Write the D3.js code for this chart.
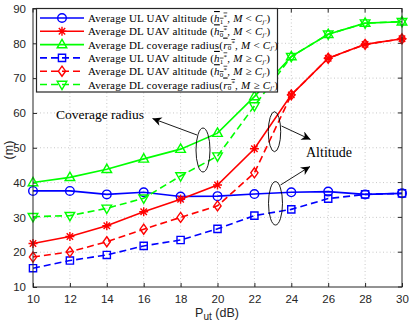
<!DOCTYPE html>
<html><head><meta charset="utf-8">
<script src="https://cdn.jsdelivr.net/npm/d3@7"></script>
<style>body{margin:0;background:#fff}svg{display:block}</style>
</head><body>
<svg id="c" width="409" height="327"></svg>
<script>
const xVals = [10,12,14,16,18,20,22,24,26,28,30];
const ulAltLess = [37.6,37.6,36.6,37.2,36.0,36.1,36.7,37.2,37.4,36.6,36.9];
const dlAltLess = [22.5,24.5,27.6,31.6,35.2,39.3,49.7,65.2,75.7,79.7,81.3];
const dlRadLess = [40.0,41.5,43.8,46.8,49.6,54.2,64.7,76.2,82.6,85.8,86.2];
const ulAltGeq = [15.4,17.6,19.2,21.8,23.5,26.7,30.5,32.3,35.4,36.6,36.9];
const dlAltGeq = [18.6,20.1,23.0,26.6,30.0,33.3,42.8,65.2,75.7,79.7,81.3];
const dlRadGeq = [30.2,30.5,32.6,35.5,41.9,47.6,62.0,76.2,82.6,85.8,86.2];
const xTicks = [10,12,14,16,18,20,22,24,26,28,30];
const yTicks = [10,20,30,40,50,60,70,80,90];
const legendNames = [
  ["Average UL UAV altitude (","h","1","<"],
  ["Average DL UAV altitude (","h","0","<"],
  ["Average DL coverage radius(","r","0","<"],
  ["Average UL UAV altitude (","h","1","≥"],
  ["Average DL UAV altitude (","h","0","≥"],
  ["Average DL coverage radius(","r","0","≥"]
];

const series = [
  {v: ulAltLess, color:"#0000ff", dash:null, m:"circle"},
  {v: dlAltLess, color:"#ff0000", dash:null, m:"star"},
  {v: dlRadLess, color:"#00ff00", dash:null, m:"tri"},
  {v: ulAltGeq, color:"#0000ff", dash:"7,4", m:"square"},
  {v: dlAltGeq, color:"#ff0000", dash:"7,4", m:"diamond"},
  {v: dlRadGeq, color:"#00ff00", dash:"7,4", m:"itri"}
];

const svg = d3.select("#c");
const L=33, R=402, T=8.5, B=287;
const x = d3.scaleLinear().domain([10,30]).range([L,R]);
const y = d3.scaleLinear().domain([10,90]).range([B,T]);

// grid
const g = svg.append("g");
g.selectAll(".gx").data(xTicks.slice(1,-1)).enter().append("line")
  .attr("x1",d=>x(d)).attr("x2",d=>x(d)).attr("y1",T).attr("y2",B)
  .attr("stroke","#bbb").attr("stroke-width",0.8).attr("stroke-dasharray","1,2.5");
g.selectAll(".gy").data(yTicks.slice(1,-1)).enter().append("line")
  .attr("y1",d=>y(d)).attr("y2",d=>y(d)).attr("x1",L).attr("x2",R)
  .attr("stroke","#bbb").attr("stroke-width",0.8).attr("stroke-dasharray","1,2.5");

// axes
const xAxis = d3.axisBottom(x).tickValues(xTicks).tickSize(-4).tickPadding(8);
const yAxis = d3.axisLeft(y).tickValues(yTicks).tickSize(-4).tickPadding(7);
const ax = svg.append("g").attr("transform",`translate(0,${B})`).call(xAxis);
const ay = svg.append("g").attr("transform",`translate(${L},0)`).call(yAxis);
[ax,ay].forEach(a=>{
  a.select(".domain").remove();
  a.selectAll("text").attr("font-family","Liberation Sans, Arial, sans-serif").attr("font-size",11.5).attr("fill","#262626");
  a.selectAll("line").attr("stroke","#262626");
});
// top/right ticks
svg.append("g").selectAll("line").data(xTicks).enter().append("line")
  .attr("x1",d=>x(d)).attr("x2",d=>x(d)).attr("y1",T).attr("y2",T+4).attr("stroke","#262626");
svg.append("g").selectAll("line").data(yTicks).enter().append("line")
  .attr("y1",d=>y(d)).attr("y2",d=>y(d)).attr("x1",R).attr("x2",R-4).attr("stroke","#262626");

// markers
function markerPath(type){
  switch(type){
    case "circle": return d3.symbol(d3.symbolCircle, Math.PI*4.3*4.3)();
    case "square": return "M-3.6,-3.6H3.6V3.6H-3.6Z";
    case "diamond": return "M0,-5L3.6,0L0,5L-3.6,0Z";
    case "tri": return "M0,-5.2L4.8,3.2L-4.8,3.2Z";
    case "itri": return "M0,5.2L4.8,-3.2L-4.8,-3.2Z";
    case "star": return "M-4.5,0H4.5M0,-4.5V4.5M-3.2,-3.2L3.2,3.2M-3.2,3.2L3.2,-3.2";
  }
}
const line = d3.line().x((d,i)=>x(xVals[i])).y(d=>y(d));
const plot = svg.append("g");
series.forEach(s=>{
  plot.append("path").attr("d",line(s.v)).attr("fill","none").attr("stroke",s.color)
    .attr("stroke-width",1.6).attr("stroke-dasharray",s.dash);
  plot.selectAll(null).data(s.v).enter().append("path")
    .attr("transform",(d,i)=>`translate(${x(xVals[i])},${y(d)})`)
    .attr("d",markerPath(s.m)).attr("fill","none").attr("stroke",s.color).attr("stroke-width",1.4);
});

// frame
svg.append("rect").attr("x",L).attr("y",T).attr("width",R-L).attr("height",B-T)
  .attr("fill","none").attr("stroke","#262626").attr("stroke-width",1);

// axis labels
const xl = svg.append("text").attr("x",217).attr("y",317).attr("text-anchor","middle")
  .attr("font-family","Liberation Sans, Arial, sans-serif").attr("font-size",12.5).attr("fill","#262626");
xl.append("tspan").text("P");
xl.append("tspan").attr("font-size",10).attr("dy",3).text("ut");
xl.append("tspan").attr("dy",-3).text(" (dB)");
svg.append("text").attr("transform","translate(13,150) rotate(-90)").attr("text-anchor","middle")
  .attr("font-family","Liberation Sans, Arial, sans-serif").attr("font-size",12.5).attr("fill","#262626").text("(m)");

// annotations
const ann = svg.append("g");
const defs = svg.append("defs");
defs.append("marker").attr("id","ah").attr("viewBox","0 0 10 10").attr("refX",10).attr("refY",5)
  .attr("markerWidth",14).attr("markerHeight",9).attr("markerUnits","userSpaceOnUse").attr("orient","auto")
  .append("path").attr("d","M0,0L10,5L0,10L3,5Z").attr("fill","#000");
const serif = "Liberation Serif, Times New Roman, serif";
ann.append("text").attr("x",56).attr("y",119).attr("font-family",serif).attr("font-size",13.5).text("Coverage radius");
ann.append("text").attr("x",306).attr("y",157).attr("font-family",serif).attr("font-size",14).text("Altitude");
[[203,150,7,22],[274.5,131.7,6.2,20],[275.5,203.3,7,21.7]].forEach(e=>{
  ann.append("ellipse").attr("cx",e[0]).attr("cy",e[1]).attr("rx",e[2]).attr("ry",e[3])
    .attr("fill","none").attr("stroke","#000").attr("stroke-width",0.9);
});
[[197,135,152.5,118.5],[281.5,126,310.5,139.5],[280.5,185,310,166.5]].forEach(a=>{
  ann.append("line").attr("x1",a[0]).attr("y1",a[1]).attr("x2",a[2]).attr("y2",a[3])
    .attr("stroke","#000").attr("stroke-width",0.9).attr("marker-end","url(#ah)");
});

// legend
const lg = svg.append("g");
lg.append("rect").attr("x",36.5).attr("y",8.5).attr("width",241).attr("height",83.5)
  .attr("fill","#fff").attr("stroke","#262626").attr("stroke-width",1.2);
series.forEach((s,i)=>{
  const cy = 18 + i*13.3;
  lg.append("line").attr("x1",40).attr("x2",84).attr("y1",cy).attr("y2",cy)
    .attr("stroke",s.color).attr("stroke-width",1.6).attr("stroke-dasharray",s.dash);
  lg.append("path").attr("transform",`translate(62,${cy})`).attr("d",markerPath(s.m))
    .attr("fill","none").attr("stroke",s.color).attr("stroke-width",1.4);
  const n = legendNames[i];
  const t = lg.append("text").attr("x",88).attr("y",cy+4).attr("font-family",serif).attr("font-size",11)
    .attr("letter-spacing",0.22).attr("fill","#000");
  t.append("tspan").text(n[0]);
  t.append("tspan").attr("font-style","italic").attr("text-decoration","overline").text(n[1]);
  t.append("tspan").attr("font-size",7).attr("dy",1.8).attr("text-decoration","overline").text(n[2]);
  t.append("tspan").attr("font-size",7).attr("dy",-5.2).attr("text-decoration","overline").text("*");
  t.append("tspan").attr("dy",3.4).text(", ");
  t.append("tspan").attr("font-style","italic").text("M");
  t.append("tspan").text(" " + n[3] + " ");
  t.append("tspan").attr("font-style","italic").text("C");
  t.append("tspan").attr("font-size",7).attr("font-style","italic").attr("dy",1.8).text("j′");
  t.append("tspan").attr("dy",-1.8).text(")");
});
</script>
</body></html>
